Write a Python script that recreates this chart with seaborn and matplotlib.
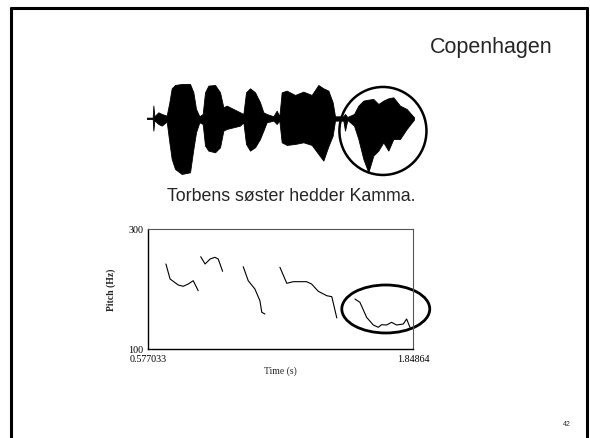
# Slide: Copenhagen waveform + pitch track

import numpy as np
import pandas as pd
import seaborn as sns
import matplotlib.pyplot as plt
from matplotlib.patches import Ellipse
from matplotlib.lines import Line2D

sns.set_style('white')

# waveform envelope (time in s, amplitude upper / lower)
wave_t = [0.0, 0.045, 0.05, 0.0575, 0.0875, 0.1125, 0.15, 0.17, 0.1875, 0.2125,
          0.2625, 0.325, 0.35, 0.37, 0.395, 0.42, 0.4375, 0.4625, 0.5125, 0.55,
          0.575, 0.6, 0.65, 0.7, 0.725, 0.745, 0.775, 0.8125, 0.85, 0.875,
          0.9, 0.95, 0.975, 0.995, 1.0125, 1.05, 1.1125, 1.175, 1.2375, 1.2875,
          1.325, 1.3625, 1.395, 1.4125, 1.475, 1.4875, 1.505, 1.555, 1.5875, 1.625,
          1.6625, 1.7, 1.7375, 1.775, 1.8125, 1.85, 1.9, 1.95, 2.005]
wave_up = [0.02, 0.02, 0.38, 0.06, 0.18, 0.13, 0.08, 0.48, 0.90, 1.00,
           1.03, 1.03, 0.78, 0.28, 0.06, 0.13, 0.78, 0.98, 1.00, 0.78,
           0.33, 0.38, 0.28, 0.18, 0.13, 0.78, 0.90, 0.78, 0.48, 0.18,
           0.13, 0.06, 0.23, 0.06, 0.78, 0.83, 0.70, 0.80, 0.70, 1.00,
           0.90, 0.83, 0.48, 0.06, 0.06, 0.13, 0.04, 0.13, 0.38, 0.53,
           0.56, 0.58, 0.43, 0.53, 0.60, 0.63, 0.38, 0.28, 0.03]
wave_lo = [-0.02, -0.02, -0.37, -0.06, -0.17, -0.22, -0.10, -0.72, -1.22, -1.52,
           -1.67, -1.62, -0.92, -0.42, -0.12, -0.17, -0.82, -0.97, -1.02, -0.87,
           -0.37, -0.32, -0.27, -0.22, -0.12, -0.77, -0.97, -0.87, -0.62, -0.37,
           -0.12, -0.07, -0.17, -0.07, -0.72, -0.80, -0.77, -0.72, -0.80, -1.07,
           -1.27, -0.84, -0.52, -0.07, -0.07, -0.37, -0.05, -0.22, -0.62, -1.22,
           -1.62, -1.12, -0.97, -0.72, -0.97, -0.62, -0.62, -0.32, -0.04]

# pitch track segments (time s, pitch Hz)
seg1_t = [0.663, 0.683, 0.722, 0.746, 0.770, 0.794, 0.818]
seg1_f = [241.7, 216.7, 206.7, 204.5, 208.3, 213.8, 197.2]
seg2_t = [0.830, 0.851, 0.875, 0.898, 0.914, 0.935]
seg2_f = [253.8, 241.7, 250.0, 252.8, 250.0, 229.5]
seg3_t = [1.034, 1.058, 1.090, 1.114, 1.123, 1.138]
seg3_f = [237.2, 213.8, 200.0, 180.5, 161.2, 158.3]
seg4_t = [1.210, 1.243, 1.274, 1.338, 1.362, 1.394, 1.435, 1.459, 1.483]
seg4_f = [236.2, 209.5, 212.2, 212.2, 208.3, 196.2, 188.8, 187.2, 151.7]
seg5_t = [1.570, 1.594, 1.626, 1.658, 1.682, 1.698, 1.722, 1.746, 1.770, 1.802, 1.818, 1.834]
seg5_f = [183.3, 177.8, 152.8, 140.0, 136.2, 140.5, 140.0, 144.5, 140.0, 141.7, 150.0, 136.2]

t_min, t_max = 0.577033, 1.84864
f_min, f_max = 100, 300

segs = [(seg1_t, seg1_f), (seg2_t, seg2_f), (seg3_t, seg3_f), (seg4_t, seg4_f), (seg5_t, seg5_f)]
pitch = pd.concat([pd.DataFrame({'time': t, 'pitch': f, 'seg': i}) for i, (t, f) in enumerate(segs)])

fig = plt.figure(figsize=(5.9, 4.39), dpi=100)

# slide border (top, left, right)
for xs, ys in [([11/590, 587/590], [430/439, 430/439]),
               ([11/590, 11/590], [0, 430/439]),
               ([587/590, 587/590], [0, 430/439])]:
    fig.add_artist(Line2D(xs, ys, color='black', lw=2.2, transform=fig.transFigure))

fig.text(491/590, 1 - 48/439, 'Copenhagen', family='Liberation Sans', fontsize=15.5,
         ha='center', va='center')
fig.text(291/590, 1 - 197/439, 'Torbens søster hedder Kamma.', family='Liberation Sans',
         fontsize=12.8, ha='center', va='center')
fig.text(567/590, 1 - 425/439, '42', family='Liberation Sans', fontsize=5, ha='center',
         va='center', color='#333333')

# waveform
axw = fig.add_axes([146.7/590, (439 - 179.3)/439, 267.3/590, 100/439])
axw.fill_between(wave_t, wave_lo, wave_up, color='black', lw=0.6, edgecolor='black')
axw.set_xlim(0, 2.005)
axw.set_ylim(-1.8, 1.2)
axw.axis('off')
axw.add_patch(Ellipse((1.772, -0.38), 0.653, 2.64, fill=False, lw=1.8,
                      edgecolor='black', clip_on=False))

# pitch plot
ax = fig.add_axes([148/590, (439 - 350)/439, 265/590, 120/439])
sns.lineplot(data=pitch, x='time', y='pitch', units='seg', estimator=None,
             color='black', lw=0.8, ax=ax)
ax.set_xlim(t_min, t_max)
ax.set_ylim(f_min, f_max)
ax.set_xticks([t_min, t_max])
ax.set_xticklabels(['0.577033', '1.84864'])
ax.set_yticks([f_min, f_max])
ax.set_yticklabels(['100', '300'])
ax.tick_params(axis='both', direction='out', length=3, width=0.8, pad=0.5,
               labelsize=7.2, colors='black')
for lab in ax.get_xticklabels() + ax.get_yticklabels():
    lab.set_family('Liberation Serif')
ax.set_xlabel('Time (s)', family='Liberation Serif', fontsize=7, labelpad=2)
ax.set_ylabel('Pitch (Hz)', family='Liberation Serif', fontsize=7, fontweight='bold',
              labelpad=9)
for side in ['left', 'bottom']:
    ax.spines[side].set_color('black')
    ax.spines[side].set_linewidth(1.0)
for side in ['top', 'right']:
    ax.spines[side].set_color('#555555')
    ax.spines[side].set_linewidth(0.8)
ax.add_patch(Ellipse((1.718, 166.7), 0.422, 80, fill=False, lw=2.0,
                     edgecolor='black', clip_on=False))

fig.savefig('out.png', dpi=100)
